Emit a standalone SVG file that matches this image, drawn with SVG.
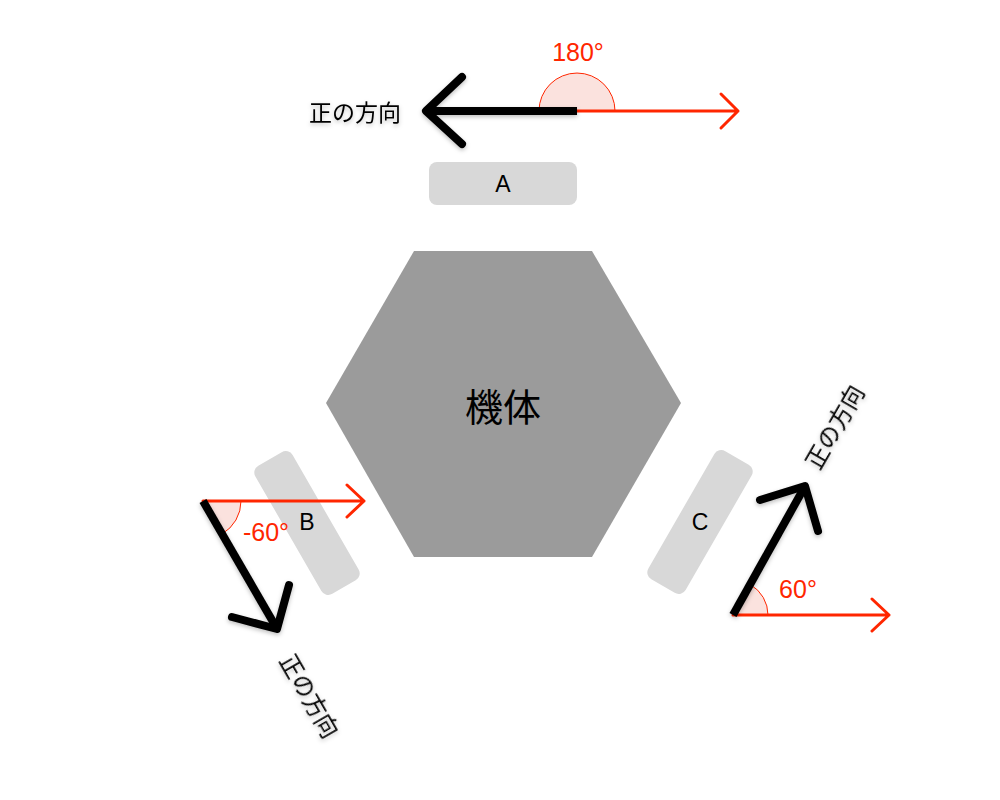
<svg xmlns="http://www.w3.org/2000/svg" width="1000" height="800" viewBox="0 0 1000 800">
  <defs>
    <style>
      .box { fill: #d8d8d8; }
      .lbl { font-family: "Liberation Sans", "Noto Sans CJK JP", sans-serif; font-size: 23px; fill: #000; text-anchor: middle; dominant-baseline: central; }
      .jp { font-family: "Noto Sans CJK JP", sans-serif; font-size: 23px; fill: #000; text-anchor: middle; dominant-baseline: central; }
      .ang { font-family: "Liberation Sans", "Noto Sans CJK JP", sans-serif; font-size: 25px; fill: #ff2600; text-anchor: middle; dominant-baseline: central; }
      .red { fill: none; stroke: #ff2600; stroke-width: 3; stroke-linecap: round; stroke-linejoin: round; }
      .blk { fill: none; stroke: #000; stroke-width: 8; stroke-linecap: round; stroke-linejoin: round; }
      .blkline { fill: none; stroke: #000; stroke-width: 8; stroke-linecap: butt; }
      .wedge { fill: #fbe2de; stroke: #ff2600; stroke-width: 1; }
    </style>
    <filter id="sh" x="-20%" y="-20%" width="140%" height="140%">
      <feDropShadow dx="0" dy="2" stdDeviation="2" flood-color="#000" flood-opacity="0.25"/>
    </filter>
  </defs>
  <rect width="1000" height="800" fill="#fff"/>

  <g id="body">
    <polygon points="414,251 592,251 681,403 592,557 414,557 326,403" fill="#9b9b9b"/>
    <text class="jp" x="503" y="404" style="font-size:38px">機体</text>
  </g>

  <g id="wheel-a">
    <rect class="box" x="429" y="162" width="148" height="43" rx="8"/>
    <text class="lbl" x="503" y="184">A</text>
  </g>
  <g id="wheel-b">
    <rect class="box" x="233" y="501.5" width="148" height="43" rx="8" transform="rotate(60 307 523)"/>
    <text class="lbl" x="307" y="522">B</text>
  </g>
  <g id="wheel-c">
    <rect class="box" x="626" y="500.5" width="148" height="43" rx="8" transform="rotate(-60 700 522)"/>
    <text class="lbl" x="700" y="522">C</text>
  </g>

  <g id="angles">
    <path class="wedge" d="M539,111 A38,38 0 0 1 615,111 Z"/>
    <text class="ang" x="578" y="52">180°</text>
    <path class="wedge" d="M203,501 L241,501 A38,38 0 0 1 222,534 Z"/>
    <text class="ang" x="266" y="532">-60°</text>
    <path class="wedge" d="M733,615 L768,615 A35,35 0 0 0 750.5,584.7 Z"/>
    <text class="ang" x="798" y="589">60°</text>
  </g>

  <g id="connectors">
    <!-- A -->
    <path class="red" d="M577,111 L738,111 M721,94 L738,111 L721,128"/>
    <g filter="url(#sh)">
      <path class="blkline" d="M577,111 L428,111"/>
      <path class="blk" d="M462,77 L426,111 L462,144"/>
    </g>
    <!-- B -->
    <path class="red" d="M203,501 L364,501 M347,485 L364,501 L347,517"/>
    <g filter="url(#sh)">
      <path class="blkline" d="M203,501 L276,627"/>
      <path class="blk" d="M232,617 L277,629 L289,585"/>
    </g>
    <!-- C -->
    <path class="red" d="M733,615 L889,615 M872,599 L889,615 L872,631"/>
    <g filter="url(#sh)">
      <path class="blkline" d="M733,615 L804,488"/>
      <path class="blk" d="M760,500 L805,486 L818,531"/>
    </g>
  </g>

  <g id="labels" filter="url(#sh)">
    <text class="jp" x="355" y="111">正の方向</text>
    <text class="jp" x="311" y="695" transform="rotate(60 311 695)">正の方向</text>
    <text class="jp" x="833" y="426" transform="rotate(-60 833 426)">正の方向</text>
  </g>
</svg>
